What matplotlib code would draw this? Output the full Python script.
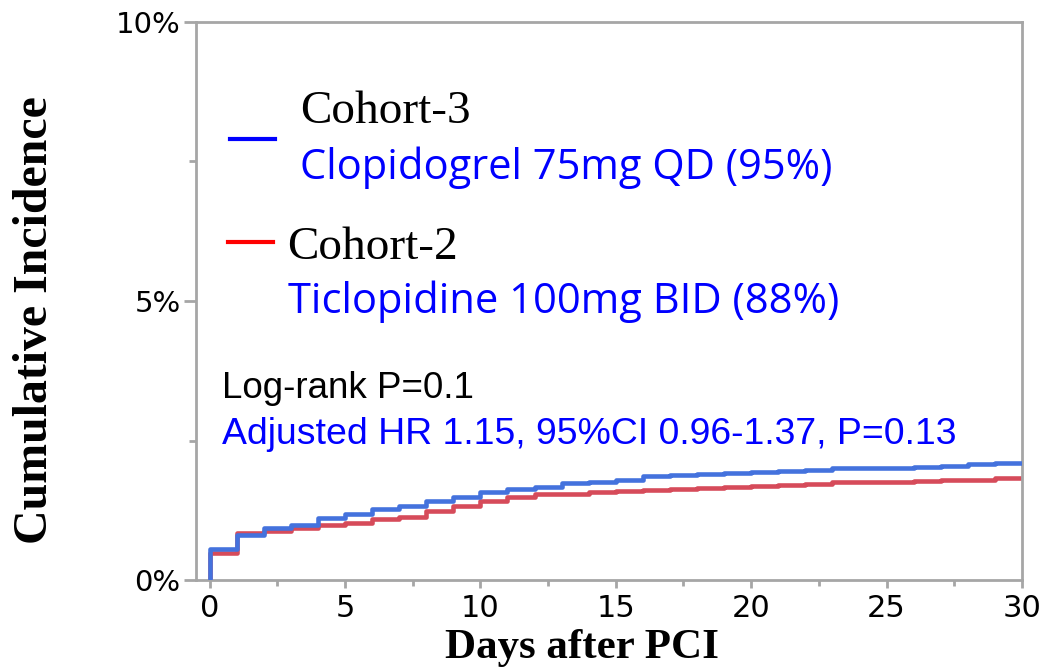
import numpy as np
import matplotlib.pyplot as plt
from matplotlib.lines import Line2D
from matplotlib.ticker import MultipleLocator, FuncFormatter

# daily cumulative incidence (%), day 0..30
days = list(range(0, 31))
cohort3 = [0.56, 0.81, 0.93, 0.99, 1.12, 1.18, 1.27, 1.33, 1.42, 1.48,
           1.58, 1.63, 1.67, 1.73, 1.76, 1.80, 1.86, 1.88, 1.90, 1.91,
           1.93, 1.96, 1.97, 2.00, 2.00, 2.01, 2.03, 2.04, 2.08, 2.09, 2.10]
cohort2 = [0.48, 0.84, 0.88, 0.93, 0.99, 1.03, 1.09, 1.13, 1.24, 1.33,
           1.42, 1.49, 1.54, 1.55, 1.57, 1.59, 1.62, 1.63, 1.65, 1.67,
           1.68, 1.71, 1.72, 1.75, 1.75, 1.76, 1.77, 1.79, 1.80, 1.82, 1.82]

blueCurve = '#4472DD'
redCurve = '#D64B5A'
spineGray = '#A6A6A6'

W, H = 1048, 671
fig = plt.figure(figsize=(W / 100, H / 100), dpi=100)
ax = fig.add_axes([196 / W, 1 - 580 / H, (1022 - 196) / W, (580 - 22) / H])

# curves start at 0 on day 0, then step up
ax.step([0] + days, [0] + cohort2, where='post', color=redCurve, lw=3.3, zorder=2)
ax.step([0] + days, [0] + cohort3, where='post', color=blueCurve, lw=3.3, zorder=3)

ax.set_xlim(-0.5, 30)
ax.set_ylim(0, 10)

for s in ax.spines.values():
    s.set_color(spineGray)
    s.set_linewidth(2)

ax.xaxis.set_major_locator(MultipleLocator(5))
ax.xaxis.set_minor_locator(MultipleLocator(2.5))
ax.yaxis.set_major_locator(MultipleLocator(5))
ax.yaxis.set_minor_locator(MultipleLocator(2.5))
ax.yaxis.set_major_formatter(FuncFormatter(lambda v, p: f'{v:.0f}%'))
ax.tick_params(axis='both', which='both', color=spineGray, width=2, direction='out')
ax.tick_params(axis='x', which='major', length=6, pad=4)
ax.tick_params(axis='x', which='minor', length=4)
ax.tick_params(axis='y', which='major', length=9, pad=2)
ax.tick_params(axis='y', which='minor', length=5)

for lab in ax.get_yticklabels():
    lab.set_fontfamily('DejaVu Sans')
    lab.set_fontsize(21)
for lab in ax.get_xticklabels():
    lab.set_fontfamily('DejaVu Sans')
    lab.set_fontsize(22)

fig.text(582 / W, 1 - 648 / H, 'Days after PCI', fontfamily='Liberation Serif',
         fontweight='bold', fontsize=31, ha='center', va='center')
fig.text(35 / W, 1 - 320 / H, 'Cumulative Incidence', rotation=90,
         fontfamily='Liberation Serif', fontweight='bold', fontsize=34.5,
         ha='center', va='center')

# legend drawn by hand
fig.add_artist(Line2D([230 / W, 275 / W], [1 - 139 / H] * 2, color='#0000FF', lw=3))
fig.add_artist(Line2D([228 / W, 273 / W], [1 - 242 / H] * 2, color='#FF0000', lw=3))

fig.text(300 / W, 1 - 112 / H, 'Cohort-3', fontfamily='Liberation Serif',
         fontsize=34, color='black', va='center')
fig.text(300 / W, 1 - 168 / H, 'Clopidogrel 75mg QD (95%)', fontfamily='Open Sans',
         fontsize=30, color='#0000FF', va='center')
fig.text(287 / W, 1 - 248 / H, 'Cohort-2', fontfamily='Liberation Serif',
         fontsize=34, color='black', va='center')
fig.text(288 / W, 1 - 302 / H, 'Ticlopidine 100mg BID (88%)', fontfamily='Open Sans',
         fontsize=30, color='#0000FF', va='center')

fig.text(222 / W, 1 - 388 / H, 'Log-rank P=0.1', fontfamily='Liberation Sans',
         fontsize=26.5, color='black', va='center')
fig.text(222 / W, 1 - 435 / H, 'Adjusted HR 1.15, 95%CI 0.96-1.37, P=0.13',
         fontfamily='Liberation Sans', fontsize=26.9, color='#0000FF', va='center')

fig.savefig('out.png', dpi=100)
